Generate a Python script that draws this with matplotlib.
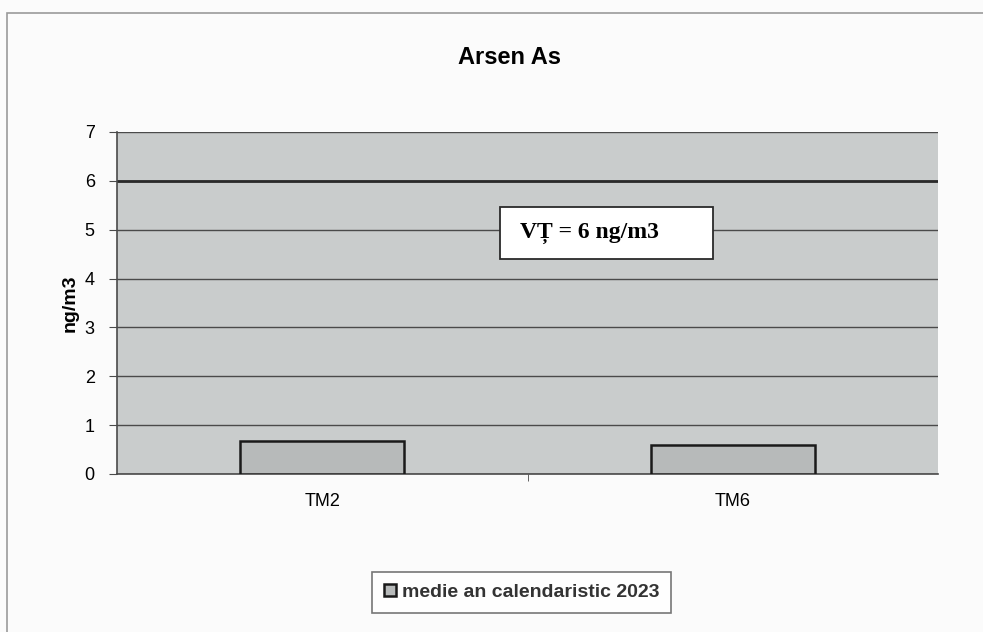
import matplotlib.pyplot as plt
from matplotlib.patches import Rectangle

# data
stations = ["TM2", "TM6"]
annual_mean = [0.68, 0.59]
limit_value = 6
series_label = "medie an calendaristic 2023"
limit_text = "VȚ = 6 ng/m3"

fig = plt.figure(figsize=(9.83, 6.32), dpi=100)
fig.patch.set_facecolor("#fbfbfb")

# outer chart border (Excel chart area)
fig.patches.append(Rectangle((7 / 983, -0.01), 1.0, 1 - 13 / 632 + 0.01,
                             transform=fig.transFigure, fill=False,
                             edgecolor="#9a9a9a", linewidth=1.2))

ax = fig.add_axes([117 / 983, 158 / 632, 821 / 983, 342 / 632])
ax.set_facecolor("#c9cccc")

x = list(range(len(stations)))
ax.bar(x, annual_mean, width=0.4, color="#b7baba", edgecolor="#1a1a1a",
       linewidth=1.8, label=series_label, zorder=3)

ax.axhline(limit_value, color="#2a2a2a", linewidth=2, zorder=2)

ax.set_xlim(-0.5, len(stations) - 0.5)
ax.set_ylim(0, 7)
ax.set_yticks(range(0, 8))
ax.yaxis.grid(True, color="#4a4a4a", linewidth=1, zorder=1)
ax.set_axisbelow(True)

ax.set_xticks(x)
ax.set_xticklabels(stations, fontsize=13, family="Liberation Sans")
ax.set_xticks([0.5], minor=True)
ax.tick_params(axis="x", which="major", length=0, pad=14)
ax.tick_params(axis="x", which="minor", length=5, color="#4a4a4a")
ax.tick_params(axis="y", length=6, color="#4a4a4a", labelsize=13, pad=10)
for lbl in ax.get_yticklabels():
    lbl.set_family("Liberation Sans")

for side in ["top", "right"]:
    ax.spines[side].set_visible(False)
for side in ["left", "bottom"]:
    ax.spines[side].set_color("#4a4a4a")
    ax.spines[side].set_linewidth(1.2)

ax.set_ylabel("ng/m3", fontsize=14, fontweight="bold", family="Liberation Sans",
              labelpad=4)

fig.text(510 / 983, 1 - 58 / 632, "Arsen As", ha="center", va="center",
         fontsize=17, fontweight="bold", family="Liberation Sans")

# limit value label box
ax.add_patch(Rectangle((0.4665, 0.6287), 0.2595, 0.152, transform=ax.transAxes,
                       facecolor="white", edgecolor="#2a2a2a", linewidth=1.3,
                       zorder=4))
ax.text(0.4909, 0.7047, limit_text, transform=ax.transAxes, ha="left",
        va="center", fontsize=17, fontweight="bold", family="Liberation Serif",
        zorder=5)

leg = fig.legend(loc="center", bbox_to_anchor=(521.5 / 983, 1 - 592.5 / 632),
                 frameon=True, fancybox=False, handlelength=0.6,
                 handleheight=0.6, handletextpad=0.3, borderpad=0.6,
                 borderaxespad=0,
                 prop={"family": "Liberation Sans", "weight": "bold", "size": 14})
leg.get_frame().set_edgecolor("#555555")
leg.get_frame().set_linewidth(1.2)
for t in leg.get_texts():
    t.set_color("#333333")

fig.savefig("out.png", dpi=100, facecolor=fig.get_facecolor())
